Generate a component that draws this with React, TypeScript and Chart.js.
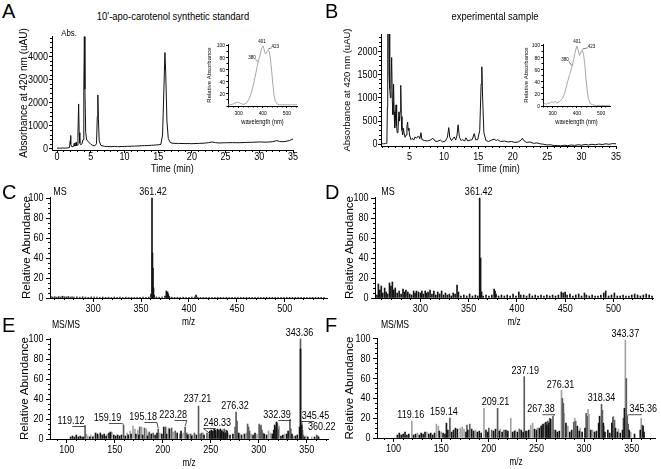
import React, { useEffect, useRef } from "react";
import { Chart, registerables } from "chart.js";

Chart.register(...registerables);

const SANS = "'Liberation Sans', Arial, sans-serif";
const COND = 0.82; // horizontal condensing of the figure's lettering

/* ======================= DATA ======================= */
// Panel A: HPLC trace of the synthetic standard [time (min), absorbance (uAU)]
const standardTrace: [number, number][] = [
  [0, 30], [0.4, 28], [0.8, 35], [1.2, 32], [1.6, 40], [1.85, 60], [1.95, 350], [2.0, 580], [2.06, 200],
  [2.2, 90], [2.4, 110], [2.5, 200], [2.58, 250], [2.65, 120], [2.75, 180], [2.82, 280], [2.9, 140],
  [3.0, 160], [3.1, 700], [3.2, 1950], [3.28, 700], [3.38, 250], [3.5, 180], [3.7, 220], [3.85, 400],
  [3.97, 2500], [4.05, 4870], [4.13, 2600], [4.25, 700], [4.4, 380], [4.6, 330], [4.8, 260], [5.0, 200],
  [5.3, 150], [5.6, 130], [5.85, 220], [5.97, 1400], [6.05, 2340], [6.13, 1300], [6.25, 350], [6.5, 150],
  [7, 110], [7.5, 100], [8, 95], [8.5, 105], [9, 95], [9.5, 100], [10, 105], [10.5, 110], [11, 115],
  [11.5, 120], [12, 125], [12.5, 135], [13, 140], [13.5, 145], [14, 155], [14.5, 165], [15, 175],
  [15.4, 190], [15.65, 600], [15.85, 2600], [16.0, 4185], [16.12, 3300], [16.3, 1200], [16.5, 450],
  [16.8, 270], [17.2, 240], [18, 235], [19, 230], [20, 225], [21, 235], [22, 250], [22.5, 270], [23, 300],
  [23.5, 270], [24, 255], [25, 265], [26, 270], [27, 265], [28, 280], [29, 285], [30, 300], [31, 290],
  [32, 310], [32.6, 360], [33, 320], [33.5, 310], [34, 330], [34.5, 360], [35, 430],
];

// Panel B: HPLC trace of the experimental sample
const sampleTrace: [number, number][] = [
  [0.85, 15], [1.2, 10], [1.5, 15], [1.7, 20], [1.78, 800], [1.83, 3000], [1.9, 2400], [1.96, 3000],
  [2.02, 1500], [2.08, 3000], [2.15, 1200], [2.22, 1000], [2.3, 1300], [2.4, 1870], [2.5, 900],
  [2.58, 640], [2.68, 1300], [2.76, 700], [2.84, 350], [2.93, 500], [3.03, 850], [3.12, 400], [3.2, 250],
  [3.32, 300], [3.45, 700], [3.55, 500], [3.62, 700], [3.72, 1270], [3.8, 600], [3.9, 300], [4.0, 200],
  [4.1, 350], [4.2, 250], [4.35, 150], [4.5, 200], [4.62, 400], [4.72, 480], [4.8, 300], [4.9, 350],
  [5.0, 200], [5.2, 100], [5.4, 130], [5.6, 90], [5.8, 160], [6.0, 130], [6.3, 180], [6.5, 120],
  [6.65, 250], [6.8, 100], [7.2, 80], [7.6, 70], [8.0, 90], [8.4, 130], [8.7, 70], [9.0, 60], [9.5, 90],
  [9.8, 50], [10.2, 70], [10.5, 150], [10.7, 360], [10.85, 150], [11.1, 80], [11.5, 160], [11.7, 90],
  [11.9, 200], [12.05, 420], [12.25, 150], [12.5, 80], [12.7, 100], [13.0, 70], [13.2, 140], [13.45, 70],
  [13.8, 90], [14.1, 100], [14.4, 230], [14.6, 100], [14.9, 100], [15.2, 300], [15.4, 1300], [15.5, 1670],
  [15.62, 1000], [15.8, 250], [16.1, 80], [16.5, 60], [16.9, 90], [17.3, 110], [17.6, 80], [17.8, 100],
  [18.2, 60], [18.8, 70], [19.3, 50], [19.8, 60], [20.3, 40], [20.8, 50], [21.2, 90], [21.4, 130],
  [21.6, 80], [22.0, 40], [22.5, 50], [23.0, 20], [23.5, 30], [24.0, 10], [24.5, 0], [25.0, -15],
  [25.5, -10], [26.0, -30], [26.5, -25], [27.0, -35], [27.5, -20], [28.0, -30], [28.5, -15], [29.0, -25],
  [29.5, -10], [30.0, -20], [30.5, -5], [31.0, -15], [31.5, 0], [32.0, -10], [32.5, 5], [33.0, -5],
  [33.5, 10], [34.0, 0], [34.5, 15], [35.0, 10],
];

// Insets: UV/Vis spectra [wavelength (nm), relative absorbance]
const standardSpectrum: [number, number][] = [
  [256, 2], [265, 2], [275, 3], [285, 5], [295, 6], [300, 6], [305, 5], [315, 3], [325, 3], [335, 6],
  [345, 13], [355, 25], [365, 42], [372, 56], [380, 72], [386, 80], [392, 90], [396, 97], [401, 100],
  [405, 95], [410, 87], [415, 88], [420, 92], [423, 93], [427, 90], [432, 78], [437, 58], [442, 36],
  [447, 18], [452, 8], [460, 3], [470, 2], [480, 2], [500, 2], [520, 2], [542, 2],
];
const sampleSpectrum: [number, number][] = [
  [262, 3], [268, 4], [274, 3], [280, 5], [286, 4], [292, 6], [298, 7], [304, 5], [310, 8], [316, 5],
  [322, 6], [330, 8], [340, 12], [350, 22], [360, 38], [370, 52], [380, 65], [388, 80], [395, 93],
  [401, 100], [406, 92], [411, 84], [416, 88], [420, 92], [423, 93], [428, 85], [433, 68], [438, 45],
  [443, 25], [448, 12], [455, 4], [465, 2], [480, 1], [500, 1], [520, 1], [537, 1],
];
const standardSpectrumPeaks: [number, number][] = [[401, 100], [423, 93], [380, 72]];
const sampleSpectrumPeaks: [number, number][] = [[401, 100], [423, 93], [380, 65]];

// Panel C: MS of the standard [m/z, relative abundance]
const msStandard: [number, number][] = [
  [256, 1.5], [258, 1], [260, 1.2], [262, 0.8], [264, 1.3], [266, 1], [268, 1.8], [270, 1.2], [272, 1],
  [274, 1.4], [276, 1], [278, 1.2], [280, 0.9], [283, 1.1], [286, 0.8], [289, 1.2], [292, 0.9], [295, 0.7],
  [298, 1], [301, 0.8], [304, 1], [307, 0.7], [310, 0.9], [313, 0.7], [316, 0.8], [319, 0.6], [322, 0.9],
  [325, 0.7], [328, 0.8], [331, 0.6], [334, 0.8], [337, 0.6], [340, 0.7], [343, 0.6], [346, 0.7],
  [349, 0.6], [352, 0.8], [355, 0.6], [358, 0.9], [360.4, 4], [361.42, 100], [361.9, 45], [362.4, 30],
  [363, 10], [363.6, 3], [366, 1], [369, 0.8], [372, 1], [375, 2], [376.4, 7], [377, 5], [377.6, 6],
  [378.4, 4], [379.5, 1.5], [382, 0.8], [385, 0.7], [388, 0.8], [391, 0.6], [394, 0.8], [397, 0.6],
  [400, 0.7], [403, 0.8], [406, 1], [407.4, 3], [409, 0.8], [412, 0.6], [415, 0.7], [418, 0.6], [421, 0.7],
  [424, 0.6], [427, 0.7], [430, 0.6], [433, 0.7], [436, 0.6], [439, 0.7], [442, 0.6], [445, 0.7],
  [448, 0.6], [451, 0.7], [454, 0.6], [457, 0.7], [460, 0.6], [463, 0.7], [466, 0.6], [469, 0.7],
  [472, 0.6], [475, 0.7], [478, 0.6], [481, 0.7], [484, 0.6], [487, 0.7], [490, 0.6], [493, 0.7],
  [496, 0.6], [499, 0.7], [502, 0.6], [505, 0.7], [508, 0.6], [511, 0.7], [514, 0.6], [517, 0.7],
  [520, 0.6], [523, 0.7], [526, 0.6], [529, 0.7], [532, 0.6], [535, 0.7], [538, 0.6], [541, 0.7],
];

// Panel D: MS of the sample
const msSample: [number, number][] = [
  [255, 3], [256.5, 14], [258, 8], [259.5, 12], [261, 5], [263, 10], [264.5, 6], [266, 4], [268, 15],
  [269.5, 12], [271, 16], [272.5, 8], [274, 10], [276, 5], [278, 7], [280, 4], [282, 9], [283.5, 6],
  [285, 8], [287, 6], [289, 4], [291, 3], [293, 7], [294.5, 5], [296, 7], [298, 6], [300, 5], [301.5, 7],
  [303, 4], [305, 7], [306.5, 5], [308, 6], [310, 8], [312, 4], [314, 7], [316, 3], [318, 6], [320, 4],
  [322, 7], [324, 3], [326, 5], [328, 3], [330, 4], [332, 2], [334, 5], [336, 4], [338, 13], [339.5, 6],
  [342, 2], [345, 3], [348, 2], [351, 4], [354, 2], [357, 3], [359.5, 2], [361.42, 100], [362.4, 40],
  [363.4, 6], [365, 2], [368, 3], [371, 2], [374, 3], [376.4, 9], [377.4, 7], [378.4, 4], [381, 2],
  [384, 3], [387, 2], [390, 3], [393, 2], [396, 4], [399, 2], [402, 6], [404, 3], [407, 3], [410, 2],
  [413, 4], [416, 2], [419, 3], [422, 2], [425, 3], [428, 2], [431, 3], [434, 2], [437, 3], [440, 2],
  [443, 3], [446, 6], [448, 5], [450, 6], [452, 3], [455, 4], [458, 2], [461, 3], [464, 4], [467, 2],
  [470, 5], [472, 3], [475, 2], [478, 3], [481, 2], [484, 2], [487, 3], [490, 5], [492, 7], [495, 2],
  [498, 3], [501, 5], [504, 2], [507, 2], [510, 3], [513, 2], [516, 2], [519, 3], [522, 4], [525, 3],
  [528, 2], [531, 3], [534, 4], [537, 3], [540, 2],
];
const msStandardPeaks: [number, number][] = [[361.42, 100]];
const msSamplePeaks: [number, number][] = [[361.42, 100]];

// Panel E: MS/MS of the standard, three grey levels
const msmsStandardLight: [number, number][] = [
  [120.5, 5], [122, 3], [125, 4], [128, 3], [133, 4], [142, 5], [147, 7], [163, 6], [166, 8], [169, 13],
  [171, 10], [174, 9], [178, 12], [183, 10], [185, 6], [197, 6], [206, 11], [211, 7], [221, 6], [227, 5],
  [231, 4], [242, 6], [256, 7], [268, 6], [280, 5], [287, 6], [292, 5], [298, 5], [306, 5], [310, 8],
  [312, 6], [321, 13], [327, 5], [336, 3], [349, 3], [355, 2],
];
const msmsStandardMid: [number, number][] = [
  [119.12, 13], [159.19, 14], [176, 12], [181, 11], [186, 7], [190, 6], [195.18, 10], [203, 12],
  [209.2, 11], [213, 8], [218, 5], [223.28, 12], [225, 6], [229, 5], [233, 6], [237.21, 33], [239, 5],
  [240.5, 6], [246, 6], [248.33, 5], [262, 9], [264, 10], [266, 9], [275.3, 12], [276.32, 27], [277.3, 18],
  [288.3, 15], [289.3, 12], [290.3, 8], [300.3, 15], [301.3, 12], [302.3, 14], [303.3, 9], [304.3, 6],
  [317.3, 12], [319.3, 16], [320.3, 10], [332.39, 19], [333.3, 10], [343.36, 100], [345.45, 9],
  [346.3, 4], [360.22, 4], [361.2, 3],
];
const msmsStandardDark: [number, number][] = [
  [104, 2], [106, 3], [108, 2], [110, 4], [112, 2], [114, 3], [116, 2], [117.5, 2], [124, 2], [127, 2],
  [130, 6], [132, 5], [135, 6], [137, 4], [139, 5], [141, 3], [144, 6], [145.5, 7], [149, 4], [151, 3],
  [153, 4], [155, 3], [157, 4], [161, 3], [164, 4], [167, 5], [172, 5], [175, 4], [179, 4], [184, 3],
  [188, 5], [192, 4], [194, 6], [199, 5], [201, 12], [204, 5], [207, 10], [215, 6], [219, 8], [226, 4],
  [230, 3], [235, 4], [243, 4], [249, 8], [250.5, 9], [252, 8], [253.5, 10], [255, 9], [257, 10],
  [258.5, 9], [260, 10], [261, 8], [263, 7], [265, 6], [267, 8], [270, 4], [273, 5], [279, 6], [282, 4],
  [285, 5], [294, 4], [296, 6], [305.5, 5], [308, 4], [314, 5], [315.5, 9], [316.5, 14], [318.3, 17],
  [323, 3], [325, 4], [329, 5], [330.5, 8], [334.5, 5], [338, 3], [340, 4], [342.4, 12], [343.4, 90],
  [344.4, 14], [347.5, 2], [351, 2], [358, 2], [362.2, 2],
];
const msmsStandardPeaks: [number, number][] = [
  [119.12, 13], [159.19, 14], [195.18, 10], [223.28, 12], [237.21, 33], [248.33, 5], [276.32, 27],
  [332.39, 19], [343.36, 100], [345.45, 9], [360.22, 4],
];

// Panel F: MS/MS of the sample, three grey levels
const msmsSampleLight: [number, number][] = [
  [119.16, 17], [125, 5], [135, 6], [145, 14], [147, 12], [150, 6], [170, 10], [172, 11], [174, 9],
  [186, 8], [194.9, 30], [212, 9], [223.1, 20], [228, 8], [244, 13], [246, 15], [251, 10], [268.5, 8],
  [276.3, 48], [279, 25], [283, 12], [290.2, 20], [296, 10], [304.2, 29], [305.2, 24], [309, 8], [321, 12],
  [331, 22], [336, 9], [343.37, 99], [349, 6], [360, 20],
];
const msmsSampleMid: [number, number][] = [
  [159.14, 20], [177, 13], [180, 14], [200, 10], [203, 8], [209.21, 30], [216, 8], [232, 9], [237.19, 62],
  [240, 7], [256, 13], [259, 15], [262, 17], [264, 20], [267.38, 22], [277.3, 40], [278.3, 35], [289.2, 16],
  [291.2, 17], [302.2, 25], [303.2, 22], [318.34, 34], [319.3, 28], [330.2, 21], [332, 18], [341.4, 20],
  [344.4, 60], [345.36, 22], [346.3, 14], [361.2, 13],
];
const msmsSampleDark: [number, number][] = [
  [104, 3], [106, 5], [108, 3], [110, 4], [112, 6], [114, 3], [116, 4], [121, 3], [123, 4], [127, 3],
  [129, 5], [131, 4], [133, 6], [137, 4], [139, 5], [141, 3], [143, 5], [148, 7], [152, 5], [154, 4],
  [155.5, 15], [157, 8], [161, 6], [163, 8], [165, 10], [167, 9], [176, 6], [178, 8], [182, 9], [184, 7],
  [188, 6], [190, 7], [192, 5], [197, 8], [199, 6], [205, 7], [207, 9], [211, 7], [214, 6], [218, 8],
  [220, 7], [225, 6], [227, 7], [230, 6], [234, 8], [236, 6], [239, 7], [242, 8], [248, 9], [250, 8],
  [253, 10], [255, 12], [257, 14], [260, 16], [261, 13], [263, 15], [265, 19], [270, 8], [272, 6], [274, 7],
  [281, 15], [285, 6], [287, 8], [293, 12], [295, 7], [298, 6], [301, 10], [307, 8], [311, 6], [313, 7],
  [315.3, 15], [316.3, 22], [320.3, 15], [322, 6], [325, 8], [327, 5], [329.2, 15], [333, 10], [335, 6],
  [338, 5], [340.4, 8], [342.4, 30], [347.4, 8], [353, 4], [359, 8], [362, 12], [363, 6],
];
const msmsSamplePeaks: [number, number][] = [
  [119.16, 17], [159.14, 20], [209.21, 30], [237.19, 62], [267.38, 22], [276.31, 48], [318.34, 34],
  [343.37, 99], [345.36, 22],
];

// Tick labels
const timeTicksA = [0, 5, 10, 15, 20, 25, 30, 35];
const timeTicksB = [5, 10, 15, 20, 25, 30, 35];
const absTicksA = [0, 1000, 2000, 3000, 4000];
const absTicksB = [0, 500, 1000, 1500, 2000];
const nmTicks = [300, 400, 500];
const insetTicksA = [20, 40, 60, 80, 100];
const insetTicksB = [0, 20, 40, 60, 80, 100];
const mzTicksMS = [300, 350, 400, 450, 500];
const mzTicksMSMS = [100, 150, 200, 250, 300, 350];
const abundanceTicks = [0, 20, 40, 60, 80, 100];

/* ======================= STYLE / LAYOUT ======================= */
type Box = { l: number; t: number; r: number; b: number };
type Lead = { dx: number; dy: number; lead?: "l" | "r"; under?: boolean };
type AxisSpec = {
  min: number; max: number; ticks: number[]; len: number;
  fontSize: number; labelOff: number; size: number;
  title?: string; titleSize?: number; titleOff?: number; titlePad?: number;
};

function condText(ctx: any, text: string, x: number, y: number, align: string) {
  ctx.save();
  ctx.translate(x, y);
  ctx.scale(COND, 1);
  ctx.textAlign = align;
  ctx.fillText(text, 0, 0);
  ctx.restore();
}

function makeScale(axis: "x" | "y", s: AxisSpec) {
  return {
    type: "linear",
    position: axis === "x" ? "bottom" : "left",
    min: s.min,
    max: s.max,
    offset: false,
    afterBuildTicks: (sc: any) => {
      sc.ticks = s.ticks.map((v) => ({ value: v }));
    },
    afterFit: (sc: any) => {
      if (axis === "x") sc.height = s.size;
      else sc.width = s.size;
    },
    grid: { display: true, drawOnChartArea: false, drawTicks: true, tickLength: s.len, color: "#000", tickColor: "#000", lineWidth: 1, offset: false },
    border: { display: true, color: "#000", width: 1 },
    ticks: { display: false, autoSkip: false },
    title:
      axis === "y" && s.title
        ? { display: true, text: s.title, color: "#000", font: { family: SANS, size: s.titleSize }, padding: { top: s.titlePad || 0, bottom: 0 } }
        : { display: false },
  };
}

// draws major tick labels (condensed lettering) and the x-axis title
const tickTextPlugin = {
  id: "tickText",
  afterDraw(chart: any, _a: any, opts: any) {
    const ctx = chart.ctx;
    ctx.save();
    ctx.fillStyle = "#000";
    ctx.textBaseline = "middle";
    ["x", "y"].forEach((key) => {
      const s: AxisSpec = opts && opts[key];
      const sc = chart.scales[key];
      if (!s || !sc) return;
      ctx.font = `${s.fontSize}px ${SANS}`;
      sc.ticks.forEach((t: any) => {
        const p = sc.getPixelForValue(t.value);
        if (key === "x") condText(ctx, String(t.value), p, sc.top + s.labelOff, "center");
        else condText(ctx, String(t.value), sc.right - s.labelOff, p, "right");
      });
      if (key === "x" && s.title) {
        ctx.font = `${s.titleSize}px ${SANS}`;
        const ca = chart.chartArea;
        condText(ctx, s.title, (ca.left + ca.right) / 2, sc.top + (s.titleOff || 0), "center");
      }
    });
    ctx.restore();
  },
};

const minorTicksPlugin = {
  id: "minorTicks",
  afterDraw(chart: any, _a: any, opts: any) {
    const ctx = chart.ctx;
    ctx.save();
    ctx.strokeStyle = "#000";
    ctx.lineWidth = 1;
    ["x", "y"].forEach((key) => {
      const m = opts && opts[key];
      const sc = chart.scales[key];
      if (!m || !sc) return;
      const start = Math.ceil(sc.min / m.step - 1e-9) * m.step;
      ctx.beginPath();
      for (let i = 0; i < 1000; i++) {
        const v = start + i * m.step;
        if (v > sc.max + 1e-9) break;
        const p = Math.round(sc.getPixelForValue(v) - 0.5) + 0.5;
        if (key === "x") {
          ctx.moveTo(p, sc.top);
          ctx.lineTo(p, sc.top + m.len);
        } else {
          ctx.moveTo(sc.right, p);
          ctx.lineTo(sc.right - m.len, p);
        }
      }
      ctx.stroke();
    });
    ctx.restore();
  },
};

const labelsPlugin = {
  id: "peakLabels",
  afterDraw(chart: any, _a: any, opts: any) {
    if (!opts) return;
    const ctx = chart.ctx;
    const xs = chart.scales.x;
    const ys = chart.scales.y;
    ctx.save();
    ctx.fillStyle = "#000";
    ctx.strokeStyle = "#222";
    ctx.lineWidth = opts.leadWidth || 0.8;
    ctx.textBaseline = "middle";
    ctx.font = `${opts.size}px ${SANS}`;
    (opts.items || []).forEach((it: any) => {
      const px = xs.getPixelForValue(it.x);
      const py = ys.getPixelForValue(it.y);
      const cx = px + it.dx;
      const cy = py + it.dy;
      condText(ctx, it.text, cx, cy, "center");
      if (it.lead) {
        const w = ctx.measureText(it.text).width * COND;
        const yb = cy + opts.size * 0.5;
        ctx.beginPath();
        if (it.lead === "l") {
          if (it.under) {
            ctx.moveTo(cx + w * 0.05, yb);
            ctx.lineTo(cx + w / 2, yb);
          } else ctx.moveTo(cx + w / 2, yb - 1);
          ctx.lineTo(px, py - 1);
        } else {
          ctx.moveTo(px, py - 1);
          if (it.under) {
            ctx.lineTo(cx - w / 2, yb);
            ctx.lineTo(cx - w * 0.05, yb);
          } else ctx.lineTo(cx - w / 2, yb - 1);
        }
        ctx.stroke();
      }
    });
    (opts.fixed || []).forEach((f: any) => {
      ctx.font = `${f.size}px ${SANS}`;
      condText(ctx, f.text, chart.chartArea.left + f.dx, chart.chartArea.top + f.dy, "center");
    });
    ctx.restore();
  },
};

function peakItems(peaks: [number, number][], leads: Lead[], digits: number) {
  return peaks.map(([x, y], i) => ({ x, y, text: x.toFixed(digits), ...leads[i] }));
}

function baseOptions(xs: AxisSpec, ys: AxisSpec, pad: Box, minor: any, labels: any) {
  return {
    responsive: false,
    maintainAspectRatio: false,
    animation: false,
    devicePixelRatio: 1,
    events: [],
    layout: { padding: { left: 0, top: pad.t, right: pad.r, bottom: 0 } },
    scales: { x: makeScale("x", xs), y: makeScale("y", ys) },
    plugins: {
      legend: { display: false },
      tooltip: { enabled: false },
      title: { display: false },
      minorTicks: minor,
      peakLabels: labels,
      tickText: { x: xs, y: ys },
    },
  };
}

const PLUGINS = [minorTicksPlugin, tickTextPlugin, labelsPlugin];

function lineConfig(trace: [number, number][], color: string, xs: AxisSpec, ys: AxisSpec, pad: Box, minor: any, labels: any) {
  return {
    type: "line",
    data: {
      datasets: [
        {
          data: trace.map(([x, y]) => ({ x, y })),
          borderColor: color,
          borderWidth: 1,
          pointRadius: 0,
          tension: 0,
          fill: false,
        },
      ],
    },
    options: baseOptions(xs, ys, pad, minor, labels),
    plugins: PLUGINS,
  };
}

const SHADES = ["#151515", "#5c5c5c", "#a3a3a3"];

function barConfig(groups: [number, number][][], xs: AxisSpec, ys: AxisSpec, pad: Box, minor: any, labels: any) {
  // groups: [dark, mid, light]; drawn light first, dark last
  const pts: { x: number; y: number; g: number }[] = [];
  [2, 1, 0].forEach((g) => {
    (groups[g] || []).forEach(([x, y]) => pts.push({ x, y, g }));
  });
  return {
    type: "bar",
    data: {
      datasets: [
        {
          data: pts,
          backgroundColor: (c: any) => SHADES[c.raw ? c.raw.g : 0],
          borderWidth: 0,
          barThickness: 1,
        },
      ],
    },
    options: baseOptions(xs, ys, pad, minor, labels),
    plugins: PLUGINS,
  };
}

type PanelDef = { box: Box; pad: Box; build: (pad: Box) => any };

const msAxisX = (min: number, max: number, ticks: number[], size: number): AxisSpec => ({
  min, max, ticks, len: 4, fontSize: 11, labelOff: 11, size, title: "m/z", titleSize: 10, titleOff: 24,
});
const msAxisY = (titlePad: number, size: number): AxisSpec => ({
  min: 0, max: 101, ticks: abundanceTicks, len: 4, fontSize: 11, labelOff: 6.5, size,
  title: "Relative Abundance", titleSize: 11.5, titlePad,
});
const msMinor = { x: { step: 10, len: 2 }, y: { step: 5, len: 2 } };

const insetAxisX = (min: number, max: number, size: number): AxisSpec => ({
  min, max, ticks: nmTicks, len: 2, fontSize: 6, labelOff: 7.3, size, title: "wavelength (nm)", titleSize: 7, titleOff: 16,
});
const insetAxisY = (ticks: number[], size: number): AxisSpec => ({
  min: 0, max: 103, ticks, len: 2, fontSize: 6, labelOff: 3, size, title: "Relative Absorbance", titleSize: 6, titlePad: 0,
});
const insetMinor = { x: { step: 20, len: 1.5 }, y: { step: 10, len: 1.5 } };

const PANELS: PanelDef[] = [
  // A main
  {
    box: { l: 52, t: 36, r: 293, b: 150 },
    pad: { l: 52, t: 10, r: 12, b: 26 },
    build: (pad) =>
      lineConfig(
        standardTrace, "#111",
        { min: -0.75, max: 35, ticks: timeTicksA, len: 3, fontSize: 11, labelOff: 7, size: pad.b, title: "Time (min)", titleSize: 11, titleOff: 19 },
        { min: -50, max: 4900, ticks: absTicksA, len: 3, fontSize: 11, labelOff: 4, size: pad.l, title: "Absorbance at 420 nm (uAU)", titleSize: 10, titlePad: 18 },
        pad,
        { x: { step: 1, len: 2 }, y: { step: 200, len: 2 } },
        { size: 10, items: [], fixed: [{ text: "Abs.", dx: 17, dy: -3, size: 9.5 }] }
      ),
  },
  // B main
  {
    box: { l: 381, t: 34, r: 616, b: 146 },
    pad: { l: 51, t: 10, r: 12, b: 30 },
    build: (pad) =>
      lineConfig(
        sampleTrace, "#111",
        { min: 0.85, max: 35, ticks: timeTicksB, len: 3, fontSize: 11, labelOff: 11, size: pad.b, title: "Time (min)", titleSize: 11, titleOff: 23 },
        { min: -37, max: 2377, ticks: absTicksB, len: 3, fontSize: 11, labelOff: 3.5, size: pad.l, title: "Absorbance at 420 nm (uAU)", titleSize: 9.5, titlePad: 12 },
        pad,
        { x: { step: 1, len: 2 }, y: { step: 100, len: 2 } },
        null
      ),
  },
  // A inset
  {
    box: { l: 228, t: 44, r: 297, b: 106 },
    pad: { l: 22, t: 8, r: 6, b: 20 },
    build: (pad) =>
      lineConfig(
        standardSpectrum, "#a8a8a8",
        insetAxisX(256, 542, pad.b),
        insetAxisY(insetTicksA, pad.l),
        pad,
        insetMinor,
        {
          size: 5.5, leadWidth: 0.6,
          items: peakItems(standardSpectrumPeaks, [{ dx: -1, dy: -4 }, { dx: 7, dy: -4, lead: "r" }, { dx: -6, dy: -5, lead: "l" }], 0),
        }
      ),
  },
  // B inset
  {
    box: { l: 543, t: 44, r: 610, b: 106 },
    pad: { l: 20, t: 8, r: 6, b: 20 },
    build: (pad) =>
      lineConfig(
        sampleSpectrum, "#a8a8a8",
        insetAxisX(260, 537, pad.b),
        insetAxisY(insetTicksB, pad.l),
        pad,
        insetMinor,
        {
          size: 5.5, leadWidth: 0.6,
          items: peakItems(sampleSpectrumPeaks, [{ dx: 0, dy: -4 }, { dx: 9, dy: -4, lead: "r" }, { dx: -7, dy: -7, lead: "l" }], 0),
        }
      ),
  },
  // C
  {
    box: { l: 50, t: 197, r: 327, b: 298 },
    pad: { l: 50, t: 12, r: 8, b: 32 },
    build: (pad) =>
      barConfig(
        [msStandard, [], []],
        msAxisX(255, 544, mzTicksMS, pad.b),
        msAxisY(20, pad.l),
        pad, msMinor,
        { size: 11, items: peakItems(msStandardPeaks, [{ dx: 1, dy: -6 }], 2), fixed: [{ text: "MS", dx: 10, dy: -5, size: 11 }] }
      ),
  },
  // D
  {
    box: { l: 375, t: 197, r: 653, b: 298 },
    pad: { l: 45, t: 12, r: 8, b: 32 },
    build: (pad) =>
      barConfig(
        [msSample, [], []],
        msAxisX(253, 541, mzTicksMS, pad.b),
        msAxisY(13, pad.l),
        pad, msMinor,
        { size: 11, items: peakItems(msSamplePeaks, [{ dx: -1, dy: -6 }], 2), fixed: [{ text: "MS", dx: 13, dy: -5, size: 11 }] }
      ),
  },
  // E
  {
    box: { l: 50, t: 338, r: 328, b: 439 },
    pad: { l: 50, t: 20, r: 12, b: 30 },
    build: (pad) =>
      barConfig(
        [msmsStandardDark, msmsStandardMid, msmsStandardLight],
        msAxisX(82.6, 372, mzTicksMSMS, pad.b),
        msAxisY(18, pad.l),
        pad, msMinor,
        {
          size: 11,
          items: peakItems(msmsStandardPeaks, [
            { dx: -14, dy: -5, lead: "l", under: true },
            { dx: -16, dy: -7, lead: "l", under: true },
            { dx: -15, dy: -12, lead: "l", under: true },
            { dx: -12, dy: -12, lead: "l", under: true },
            { dx: -1, dy: -7 },
            { dx: 8, dy: -11, lead: "r", under: true },
            { dx: -1, dy: -6 },
            { dx: -13, dy: -5, lead: "l", under: true },
            { dx: -1, dy: -6 },
            { dx: 13, dy: -14, lead: "r", under: true },
            { dx: 5, dy: -8 },
          ], 2),
          fixed: [{ text: "MS/MS", dx: 16, dy: -13, size: 10.5 }],
        }
      ),
  },
  // F
  {
    box: { l: 377, t: 338, r: 655, b: 438 },
    pad: { l: 47, t: 20, r: 6, b: 30 },
    build: (pad) =>
      barConfig(
        [msmsSampleDark, msmsSampleMid, msmsSampleLight],
        { ...msAxisX(82.6, 374.5, mzTicksMSMS, pad.b), labelOff: 10.5 },
        msAxisY(13, pad.l),
        pad, msMinor,
        {
          size: 11,
          items: peakItems(msmsSamplePeaks, [
            { dx: -1, dy: -6 },
            { dx: -6, dy: -6 },
            { dx: -2, dy: -6 },
            { dx: 1, dy: -6 },
            { dx: -12, dy: -7, lead: "l", under: true },
            { dx: -1, dy: -6 },
            { dx: 0, dy: -6 },
            { dx: 0, dy: -6 },
            { dx: 16, dy: -7, lead: "r", under: true },
          ], 2),
          fixed: [{ text: "MS/MS", dx: 18, dy: -13, size: 10.5 }],
        }
      ),
  },
];

function ChartCanvas({ def }: { def: PanelDef }) {
  const ref = useRef<HTMLCanvasElement | null>(null);
  const { box, pad } = def;
  const w = box.r - box.l + pad.l + pad.r;
  const h = box.b - box.t + pad.t + pad.b;
  useEffect(() => {
    if (!ref.current) return;
    const chart = new Chart(ref.current, def.build(pad) as any);
    return () => chart.destroy();
  }, [def]);
  return (
    <canvas
      ref={ref}
      width={w}
      height={h}
      style={{ position: "absolute", left: box.l - pad.l, top: box.t - pad.t, width: w, height: h }}
    />
  );
}

const letterStyle = (left: number, top: number): React.CSSProperties => ({
  position: "absolute", left, top, fontFamily: SANS, fontSize: 20, lineHeight: "20px", color: "#000",
});
const titleStyle = (cx: number, cy: number): React.CSSProperties => ({
  position: "absolute", left: cx, top: cy, transform: `translate(-50%, -50%) scaleX(${COND})`, fontFamily: SANS,
  fontSize: 11.5, whiteSpace: "nowrap", color: "#000", lineHeight: 1,
});

export default function App() {
  return (
    <div style={{ position: "absolute", left: 0, top: 0, width: 661, height: 469, background: "#fff", overflow: "hidden" }}>
      {PANELS.map((p, i) => (
        <ChartCanvas key={i} def={p} />
      ))}
      <div style={titleStyle(173, 17)}>10'-apo-carotenol synthetic standard</div>
      <div style={titleStyle(495, 17)}>experimental sample</div>
      <div style={letterStyle(2, 1)}>A</div>
      <div style={letterStyle(325, 1)}>B</div>
      <div style={letterStyle(2, 182)}>C</div>
      <div style={letterStyle(325, 182)}>D</div>
      <div style={letterStyle(2, 315)}>E</div>
      <div style={letterStyle(325, 315)}>F</div>
    </div>
  );
}
